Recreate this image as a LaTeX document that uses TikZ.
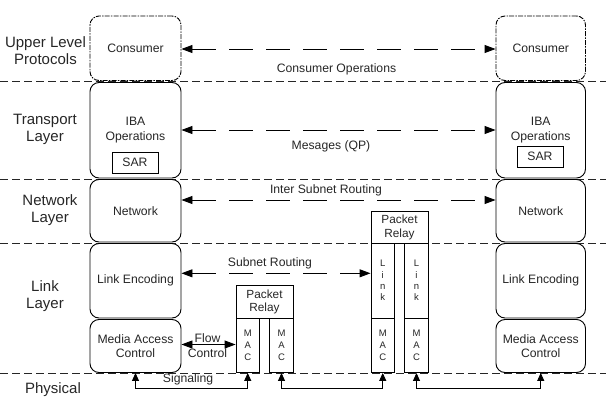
\documentclass[tikz,border=0pt]{standalone}
\usepackage{fontspec}
\setmainfont{Liberation Sans}
\usetikzlibrary{arrows.meta}
\definecolor{ink}{HTML}{262626}
\begin{document}
\begin{tikzpicture}[x=1pt,y=-1pt,
  every node/.style={text=ink, align=center, inner sep=0pt},
  boxtext/.style={font=\fontsize{12.2}{14.5}\selectfont},
  layertext/.style={font=\fontsize{15}{17}\selectfont},
  stack/.style={draw=black, line width=0.9pt, rounded corners=9pt, fill=white,
    boxtext},
  upperbox/.style={stack, dash pattern=on 5pt off 1.2pt on 1.5pt off 1.2pt, line width=0.9pt},
  sarbox/.style={draw=black, line width=0.9pt, fill=white, boxtext,
    minimum width=46pt, minimum height=21pt},
  relayhead/.style={draw=black, line width=0.9pt, fill=white,
    font=\fontsize{11.8}{13.5}\selectfont, minimum width=57pt},
  column/.style={draw=black, line width=0.9pt, fill=white,
    font=\fontsize{9.5}{12}\selectfont, minimum width=23.5pt},
  layerline/.style={draw=ink, line width=0.9pt, dash pattern=on 8pt off 4pt},
  peer/.style={line width=0.9pt, dash pattern=on 24pt off 13pt,
    {Triangle[length=11pt,width=8pt]}-{Triangle[length=11pt,width=8pt]}},
  solidpeer/.style={line width=0.9pt,
    {Triangle[length=11pt,width=8pt]}-{Triangle[length=11pt,width=8pt]}},
  wire/.style={line width=0.9pt,
    {Triangle[length=8pt,width=7pt]}-{Triangle[length=8pt,width=7pt]}}]

\useasboundingbox (0,0) rectangle (606,402);

% layer separators
\draw[layerline] (0,81) -- (606,81);
\draw[layerline] (0,179) -- (606,179);
\draw[layerline] (0,243) -- (606,243);
\draw[layerline] (0,373) -- (606,373);

% layer names
\node[layertext] (tUpper) at (45.5,51) {Upper Level\\Protocols};
\node[layertext] (tTrans) at (45,129.5) {Transport\\Layer};
\node[layertext] (tNet) at (50,210.5) {Network\\Layer};
\node[layertext] (tLink) at (45,296.5) {Link\\Layer};
\node[layertext] (tPhys) at (53,390) {Physical};

% left end node stack
\node[upperbox, minimum width=91pt, minimum height=64.5pt] (cL) at (135.5,48.25) {Consumer};
\node[stack, minimum width=91pt, minimum height=95.5pt] (iL) at (135.5,130.25) {IBA\\Operations};
\node[sarbox] (sL) at (135,162.5) {SAR};
\node[stack, minimum width=91pt, minimum height=62.5pt] (nL) at (135.5,210.75) {Network};
\node[stack, minimum width=91pt, minimum height=74.5pt] (lL) at (135.5,280.75) {Link Encoding};
\node[stack, minimum width=91pt, minimum height=53pt] (mL) at (135.5,346) {Media Access\\Control};

% right end node stack
\node[upperbox, minimum width=89.5pt, minimum height=64.5pt] (cR) at (540.75,48.25) {Consumer};
\node[stack, minimum width=89.5pt, minimum height=95.5pt] (iR) at (540.75,130.25) {IBA\\Operations};
\node[sarbox] (sR) at (540,156.5) {SAR};
\node[stack, minimum width=89.5pt, minimum height=62.5pt] (nR) at (540.75,210.75) {Network};
\node[stack, minimum width=89.5pt, minimum height=74.5pt] (lR) at (540.75,280.75) {Link Encoding};
\node[stack, minimum width=89.5pt, minimum height=53pt] (mR) at (540.75,346) {Media Access\\Control};

% switch: packet relay over two MAC ports
\node[relayhead, minimum height=32.5pt] (r1h) at (264.5,301.75) {Packet\\Relay};
\node[column, minimum height=54.5pt] (r1a) at (247.75,345.25) {M\\A\\C};
\node[column, minimum height=54.5pt] (r1b) at (281.5,345.25) {M\\A\\C};

% router: packet relay over two link/MAC ports
\node[relayhead, minimum height=31.5pt] (r2h) at (399.5,227.25) {Packet\\Relay};
\node[column, minimum height=75pt, font=\fontsize{9.5}{11.3}\selectfont] (r2la) at (382.75,280.5) {L\\i\\n\\k};
\node[column, minimum height=75pt, font=\fontsize{9.5}{11.3}\selectfont] (r2lb) at (416.5,280.5) {L\\i\\n\\k};
\node[column, minimum height=54.5pt] (r2ma) at (382.75,345.25) {M\\A\\C};
\node[column, minimum height=54.5pt] (r2mb) at (416.5,345.25) {M\\A\\C};

% peer-to-peer communication
\draw[peer] (cL.east |- 0,49) -- (cR.west |- 0,49);
\node[boxtext] (tCO) at (336.5,69) {Consumer Operations};
\draw[peer] (iL.east |- 0,130) -- (iR.west |- 0,130);
\node[boxtext] (tMsg) at (331,146.5) {Mesages (QP)};
\draw[peer] (nL.east |- 0,200) -- (nR.west |- 0,200);
\node[boxtext] (tISR) at (326,190.5) {Inter Subnet Routing};
\draw[peer] (lL.east |- 0,273.3) -- (r2la.west |- 0,273.3);
\node[boxtext] (tSR) at (270,263) {Subnet Routing};
\draw[solidpeer] (mL.east |- 0,344.5) -- (r1a.west |- 0,344.5);
\node[boxtext] (tFC) at (207.5,345.5) {Flow\\Control};

% physical signaling
\draw[wire] (mL.south) -- (mL.south |- 0,388.3) -| (r1a.south);
\node[boxtext] (tSig) at (188,379.5) {Signaling};
\draw[wire] (r1b.south) -- (r1b.south |- 0,388.3) -| (r2ma.south);
\draw[wire] (r2mb.south) -- (r2mb.south |- 0,388.3) -| (mR.south);
\end{tikzpicture}
\end{document}
